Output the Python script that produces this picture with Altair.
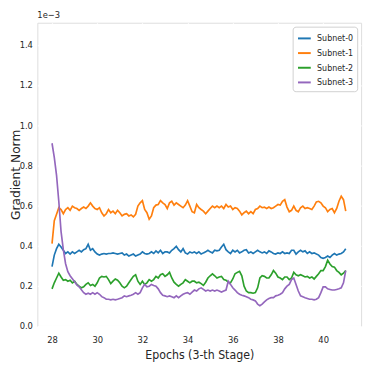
import altair as alt
import pandas as pd

# epochs sampled every 0.1 from 28.0 to 41.0 (131 samples)
epochs = [round(28.0 + 0.1 * i, 1) for i in range(131)]

subnet0 = [0.296, 0.353, 0.385, 0.407, 0.393, 0.377, 0.361, 0.369, 0.358, 0.369,
           0.361, 0.369, 0.377, 0.369, 0.380, 0.385, 0.407, 0.377, 0.385, 0.369,
           0.358, 0.353, 0.358, 0.361, 0.358, 0.361, 0.361, 0.364, 0.361, 0.358,
           0.361, 0.364, 0.353, 0.358, 0.348, 0.353, 0.358, 0.348, 0.353, 0.358,
           0.369, 0.361, 0.358, 0.361, 0.369, 0.361, 0.374, 0.364, 0.377, 0.361,
           0.369, 0.369, 0.364, 0.377, 0.385, 0.397, 0.380, 0.369, 0.385, 0.364,
           0.358, 0.369, 0.364, 0.369, 0.361, 0.369, 0.358, 0.364, 0.369, 0.377,
           0.369, 0.364, 0.377, 0.374, 0.377, 0.393, 0.407, 0.380, 0.369, 0.361,
           0.377, 0.369, 0.377, 0.364, 0.369, 0.377, 0.380, 0.364, 0.369, 0.361,
           0.369, 0.377, 0.369, 0.364, 0.369, 0.361, 0.374, 0.369, 0.361, 0.358,
           0.364, 0.361, 0.369, 0.361, 0.364, 0.361, 0.377, 0.377, 0.358, 0.369,
           0.377, 0.369, 0.374, 0.361, 0.369, 0.361, 0.364, 0.358, 0.353, 0.341,
           0.337, 0.341, 0.348, 0.341, 0.353, 0.361, 0.353, 0.358, 0.361, 0.369,
           0.385]

subnet1 = [0.410, 0.524, 0.556, 0.589, 0.580, 0.559, 0.580, 0.589, 0.576, 0.597,
           0.589, 0.585, 0.576, 0.585, 0.592, 0.585, 0.597, 0.613, 0.597, 0.585,
           0.580, 0.589, 0.564, 0.548, 0.559, 0.580, 0.564, 0.572, 0.559, 0.576,
           0.564, 0.548, 0.556, 0.559, 0.548, 0.553, 0.543, 0.556, 0.597, 0.613,
           0.624, 0.580, 0.564, 0.532, 0.548, 0.589, 0.602, 0.605, 0.624, 0.613,
           0.605, 0.585, 0.613, 0.621, 0.602, 0.613, 0.605, 0.597, 0.589, 0.602,
           0.624, 0.597, 0.569, 0.564, 0.605, 0.589, 0.580, 0.572, 0.559, 0.572,
           0.585, 0.597, 0.589, 0.597, 0.589, 0.597, 0.585, 0.605, 0.592, 0.597,
           0.580, 0.589, 0.585, 0.572, 0.553, 0.564, 0.572, 0.559, 0.569, 0.559,
           0.580, 0.585, 0.597, 0.589, 0.592, 0.585, 0.592, 0.585, 0.589, 0.597,
           0.605, 0.602, 0.621, 0.629, 0.592, 0.569, 0.576, 0.597, 0.576, 0.569,
           0.589, 0.597, 0.585, 0.589, 0.585, 0.580, 0.597, 0.618, 0.621, 0.613,
           0.597, 0.589, 0.569, 0.580, 0.585, 0.564, 0.585, 0.621, 0.646, 0.629,
           0.572]

subnet2 = [0.185, 0.215, 0.239, 0.263, 0.244, 0.228, 0.231, 0.223, 0.228, 0.215,
           0.223, 0.207, 0.198, 0.190, 0.195, 0.207, 0.215, 0.202, 0.207, 0.198,
           0.215, 0.239, 0.247, 0.244, 0.247, 0.231, 0.211, 0.223, 0.234, 0.228,
           0.215, 0.198, 0.190, 0.198, 0.215, 0.231, 0.247, 0.255, 0.223, 0.207,
           0.223, 0.207, 0.215, 0.231, 0.223, 0.231, 0.247, 0.239, 0.255, 0.260,
           0.247, 0.255, 0.267, 0.239, 0.218, 0.207, 0.198, 0.207, 0.215, 0.231,
           0.223, 0.215, 0.223, 0.223, 0.215, 0.218, 0.211, 0.202, 0.218, 0.239,
           0.250, 0.260, 0.250, 0.239, 0.244, 0.247, 0.231, 0.228, 0.218, 0.215,
           0.234, 0.260, 0.267, 0.272, 0.250, 0.198, 0.174, 0.166, 0.166, 0.163,
           0.166, 0.190, 0.239, 0.250, 0.247, 0.239, 0.239, 0.255, 0.276, 0.263,
           0.244, 0.239, 0.231, 0.244, 0.244, 0.231, 0.239, 0.267, 0.255, 0.250,
           0.255, 0.250, 0.244, 0.247, 0.239, 0.244, 0.234, 0.247, 0.260, 0.276,
           0.276, 0.296, 0.328, 0.309, 0.296, 0.293, 0.276, 0.267, 0.255, 0.263,
           0.276]

subnet3 = [0.910, 0.840, 0.750, 0.620, 0.470, 0.380, 0.310, 0.270, 0.250, 0.235,
           0.220, 0.205, 0.195, 0.180, 0.166, 0.158, 0.163, 0.158, 0.166, 0.158,
           0.166, 0.158, 0.146, 0.141, 0.133, 0.133, 0.130, 0.133, 0.130, 0.133,
           0.137, 0.141, 0.150, 0.146, 0.150, 0.153, 0.158, 0.166, 0.158, 0.166,
           0.190, 0.207, 0.195, 0.198, 0.207, 0.202, 0.198, 0.185, 0.166, 0.153,
           0.150, 0.146, 0.150, 0.146, 0.141, 0.150, 0.141, 0.150, 0.158, 0.163,
           0.166, 0.158, 0.169, 0.179, 0.174, 0.185, 0.190, 0.182, 0.174, 0.179,
           0.174, 0.179, 0.174, 0.179, 0.174, 0.169, 0.174, 0.179, 0.223, 0.207,
           0.190, 0.179, 0.166, 0.158, 0.153, 0.150, 0.146, 0.141, 0.133, 0.130,
           0.125, 0.109, 0.101, 0.109, 0.120, 0.130, 0.137, 0.141, 0.141, 0.150,
           0.153, 0.158, 0.166, 0.185, 0.198, 0.207, 0.231, 0.239, 0.207, 0.174,
           0.150, 0.146, 0.141, 0.137, 0.133, 0.133, 0.130, 0.133, 0.141, 0.166,
           0.195, 0.195, 0.185, 0.182, 0.179, 0.179, 0.182, 0.185, 0.190, 0.215,
           0.276]

names = ["Subnet-0", "Subnet-1", "Subnet-2", "Subnet-3"]
colors = ["#1f77b4", "#ff7f0e", "#2ca02c", "#9467bd"]
x_ticks = [28, 30, 32, 34, 36, 38, 40]
y_ticks = [0.0, 0.2, 0.4, 0.6, 0.8, 1.0, 1.2, 1.4]

rows = []
for name, series in zip(names, [subnet0, subnet1, subnet2, subnet3]):
    for i, (e, v) in enumerate(zip(epochs, series)):
        rows.append({"epoch": e, "value": v, "subnet": name, "order": i})
df = pd.DataFrame(rows)

font = "DejaVu Sans"
cfont = "DejaVu Sans Condensed"
ink = "#262626"

lines = alt.Chart(df).mark_line(strokeWidth=1.7, clip=True).encode(
    x=alt.X("epoch:Q",
            scale=alt.Scale(domain=[27.35, 41.68], nice=False, zero=False),
            axis=alt.Axis(values=x_ticks, format="d", title="Epochs (3-th Stage)",
                          grid=True, gridColor="white", gridWidth=1.2,
                          domain=False, ticks=False, labelPadding=9,
                          labelFont=cfont, labelFontSize=9.5, labelColor=ink,
                          titleFont=cfont, titleFontSize=12.5, titleFontWeight="normal",
                          titleColor=ink, titlePadding=5)),
    y=alt.Y("value:Q",
            scale=alt.Scale(domain=[0, 1.51], nice=False),
            axis=alt.Axis(values=y_ticks, format=".1f", title="Gradient Norm",
                          grid=True, gridColor="white", gridWidth=1.2,
                          domain=False, ticks=False, labelPadding=5,
                          labelFont=cfont, labelFontSize=9.5, labelColor=ink,
                          titleFont=font, titleFontSize=12.5, titleFontWeight="normal",
                          titleColor=ink, titleX=-28, titleBaseline="top")),
    color=alt.Color("subnet:N",
                    scale=alt.Scale(domain=names, range=colors),
                    legend=alt.Legend(title=None, orient="top-right", offset=4,
                                      fillColor="white", strokeColor="#d0d0d0",
                                      cornerRadius=3, padding=4,
                                      symbolType="stroke", symbolStrokeWidth=2,
                                      symbolSize=170, labelFont=cfont,
                                      labelFontSize=9, labelColor=ink,
                                      labelOffset=5, rowPadding=2)),
    order="order:Q",
)

exp_label = alt.Chart(pd.DataFrame({"t": ["1e\u22123"]})).mark_text(
    align="left", baseline="bottom", font=cfont, fontSize=9.5, color=ink
).encode(x=alt.value(0), y=alt.value(-3), text="t:N")

chart = alt.layer(lines, exp_label).properties(
    width=331, height=310,
    autosize=alt.AutoSizeParams(type="none"),
    padding={"left": 30, "top": 11, "right": 5, "bottom": 45},
).configure_view(fill="#EAEAF2", strokeWidth=0).configure(background="white")

chart.save("out.html", embed_options={"renderer": "svg", "actions": False})
